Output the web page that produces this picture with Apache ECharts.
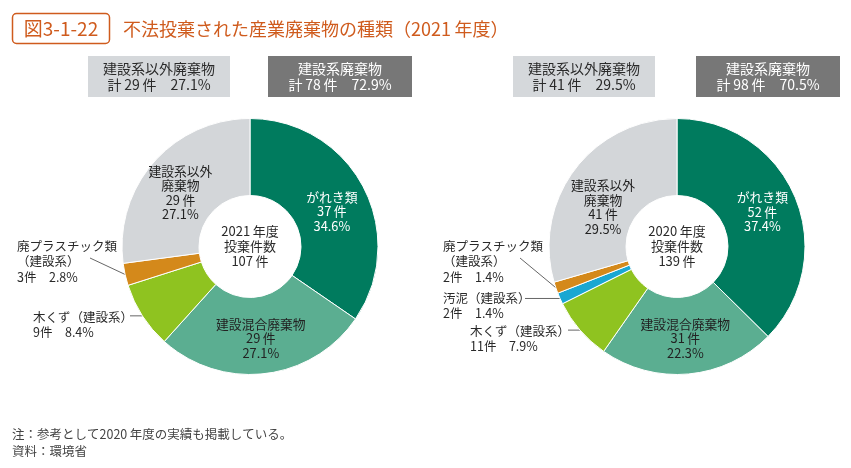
<!DOCTYPE html>
<html><head><meta charset="utf-8">
<script src="https://cdn.jsdelivr.net/npm/echarts@6/dist/echarts.min.js"></script>
<style>html,body{margin:0;padding:0;background:#fff}#c{width:851px;height:468px}</style>
</head><body><div id="c"></div>
<script>
// ---- data ----
const names2021 = ['がれき類','建設混合廃棄物','木くず（建設系）','廃プラスチック類\n（建設系）','建設系以外\n廃棄物'];
const keys2021  = ['rubble','mixed','wood','plastic','other'];
const values2021 = [37, 29, 9, 3, 29];
const pct2021    = ['34.6','27.1','8.4','2.8','27.1'];

const names2020 = ['がれき類','建設混合廃棄物','木くず（建設系）','汚泥（建設系）','廃プラスチック類\n（建設系）','建設系以外\n廃棄物'];
const keys2020  = ['rubble','mixed','wood','sludge','plastic','other'];
const values2020 = [52, 31, 11, 2, 2, 41];
const pct2020    = ['37.4','22.3','7.9','1.4','1.4','29.5'];

const years = ['2021','2020'];
const titleText = '不法投棄された産業廃棄物の種類（2021\u2009年度）';
const figNo = '図3-1-22';
const notes = ['注：参考として2020\u2009年度の実績も掲載している。','資料：環境省'];

// ---- styles ----
const FONT = '"Noto Sans CJK JP","Noto Sans",sans-serif';
const TS = '\u2009';
const colors = {rubble:'#007b5e', mixed:'#5bae91', wood:'#8fc320', sludge:'#19a7d2', plastic:'#d4891b', other:'#d3d6d9'};
const insideText = {rubble:'#ffffff', mixed:'#222222', other:'#222222'};
const outsideKeys = {wood:1, sludge:1, plastic:1};
const centers = [[250,246.5],[677,246.5]];
// label placement (series-dataIndex)
const labelPos = {
  '0-0': {dy: 8},
  '0-4': {dy: 7},
  '0-2': {x: 33, y: 309, lx: 130},
  '0-3': {x: 17, y: 238, lx: 90, ly: 258},
  '1-0': {dy: 1},
  '1-5': {dy: 16},
  '1-2': {x: 470, y: 323, lx: 568},
  '1-3': {x: 443, y: 290, lx: 525},
  '1-4': {x: 443, y: 238, lx: 520, ly: 258}
};

function makeSeries(names, keys, values, pcts, center){
  return {
    type:'pie', center:center, radius:[51,128], startAngle:90, clockwise:true,
    avoidLabelOverlap:false, silent:true,
    itemStyle:{borderColor:'#fff', borderWidth:1},
    labelLine:{show:false},
    data: values.map(function(v,i){
      const k = keys[i];
      const out = !!outsideKeys[k];
      const txt = out ? (names[i] + '\n' + v + '件　' + pcts[i] + '%')
                      : (names[i] + '\n' + v + TS + '件\n' + pcts[i] + '%');
      return {
        name: names[i], value: v,
        itemStyle:{color: colors[k]},
        label: out ? {show:true, position:'outside', formatter: txt, color:'#2a2a2a', fontSize:12.5, lineHeight:15.5, fontFamily:FONT, align:'left'}
                   : {show:true, position:'inside', formatter: txt, color: insideText[k], fontSize:12.8, lineHeight:14.5, fontFamily:FONT, align:'center'},
        labelLine: out ? {show:true, length:6, length2:6, lineStyle:{color:'#555', width:0.9}} : {show:false}
      };
    }),
    labelLayout: function(p){
      const L = labelPos[p.seriesIndex + '-' + p.dataIndex];
      if(!L) return {};
      if(L.x == null) return {dy: L.dy || 0};
      const res = {x: L.x, y: L.y, align:'left', verticalAlign:'top'};
      const pts = p.labelLinePoints;
      if(pts && pts.length){
        const a = pts[0];
        res.labelLinePoints = [[L.lx, L.ly != null ? L.ly : a[1]], [a[0], a[1]]];
      }
      return res;
    }
  };
}

const graphic = [];
// title
graphic.push({type:'rect', shape:{x:12.5,y:13.5,width:97,height:30,r:4}, style:{fill:'#fff', stroke:'#cf5b1d', lineWidth:1.5}});
graphic.push({type:'text', x:61, y:29, style:{text:figNo, fill:'#cf5b1d', fontSize:19, fontFamily:FONT, align:'center', verticalAlign:'middle'}});
graphic.push({type:'text', x:123, y:29, style:{text:titleText, fill:'#cf5b1d', fontSize:18, fontFamily:FONT, align:'left', verticalAlign:'middle'}});
// boxes and centre texts
const dataSets = [[values2021,keys2021],[values2020,keys2020]];
const boxX = [[88,268],[513,696]];
dataSets.forEach(function(ds, si){
  const vals = ds[0], keys = ds[1];
  const total = vals.reduce(function(a,b){return a+b;},0);
  const other = vals[keys.indexOf('other')];
  const constr = total - other;
  const bx = boxX[si];
  graphic.push({type:'rect', shape:{x:bx[0],y:56,width:142,height:41}, style:{fill:'#d5d8db'}});
  graphic.push({type:'text', x:bx[0]+71, y:77, style:{text:'建設系以外廃棄物\n計' + TS + other + TS + '件　' + (other/total*100).toFixed(1) + '%', fill:'#2a2a2a', fontSize:14, lineHeight:16, fontFamily:FONT, align:'center', verticalAlign:'middle'}});
  graphic.push({type:'rect', shape:{x:bx[1],y:56,width:144,height:41}, style:{fill:'#777777'}});
  graphic.push({type:'text', x:bx[1]+72, y:77, style:{text:'建設系廃棄物\n計' + TS + constr + TS + '件　' + (constr/total*100).toFixed(1) + '%', fill:'#ffffff', fontSize:14, lineHeight:16, fontFamily:FONT, align:'center', verticalAlign:'middle'}});
  graphic.push({type:'text', x:centers[si][0], y:centers[si][1], style:{text: years[si] + TS + '年度\n投棄件数\n' + total + TS + '件', fill:'#2a2a2a', fontSize:13, lineHeight:15, fontFamily:FONT, align:'center', verticalAlign:'middle'}});
});
notes.forEach(function(n, i){
  graphic.push({type:'text', x:12, y:434 + i*17, style:{text:n, fill:'#444', fontSize:12.5, fontFamily:FONT, align:'left', verticalAlign:'middle'}});
});

const chart = echarts.init(document.getElementById('c'), null, {renderer:'canvas'});
chart.setOption({
  animation:false,
  backgroundColor:'#fff',
  graphic: graphic,
  series:[
    makeSeries(names2021, keys2021, values2021, pct2021, centers[0]),
    makeSeries(names2020, keys2020, values2020, pct2020, centers[1])
  ]
});
</script>
</body></html>
